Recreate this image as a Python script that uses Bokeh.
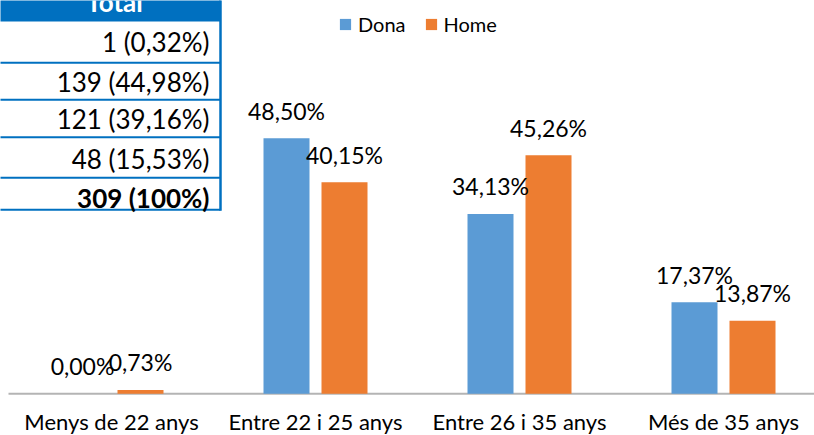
from bokeh.plotting import figure
from bokeh.models import Range1d, ColumnDataSource, Legend, LegendItem
from bokeh.transform import dodge
from bokeh.core.properties import value
from bokeh.embed import file_html
from bokeh.resources import INLINE

# ---- data ----
categories = ["Menys de 22 anys", "Entre 22 i 25 anys", "Entre 26 i 35 anys", "Més de 35 anys"]
dona = [0.00, 48.50, 34.13, 17.37]
home = [0.73, 40.15, 45.26, 13.87]
table_header = "Total"
table_counts = [1, 139, 121, 48]
table_pcts = ["0,32%", "44,98%", "39,16%", "15,53%"]
table_total = 309
table_total_pct = "100%"


def fmt(v):
    return f"{v:.2f}".replace(".", ",") + "%"


W, H = 814, 435
PX_PER_UNIT = 204.0
PX_PER_PCT = 5.27
BASE_Y = 393.3
BLUE = "#5B9BD5"
ORANGE = "#ED7D31"
TBL = "#0070C0"
FONT = "Lato"
SH = -9  # empirical baseline correction for text glyphs

x0 = -111 / PX_PER_UNIT
p = figure(width=W, height=H, output_backend="svg", toolbar_location=None,
           x_range=Range1d(x0, x0 + W / PX_PER_UNIT),
           y_range=Range1d(-(H - BASE_Y) / PX_PER_PCT, BASE_Y / PX_PER_PCT),
           min_border_left=0, min_border_right=0, min_border_top=0, min_border_bottom=0)
p.outline_line_color = None
p.xgrid.visible = False
p.ygrid.visible = False
p.xaxis.visible = False
p.yaxis.visible = False

# pixel-like extra ranges for layout pieces (y downward)
p.extra_x_ranges = {"px": Range1d(0, W)}
p.extra_y_ranges = {"px": Range1d(H, 0)}

src = ColumnDataSource(dict(
    x=list(range(len(categories))),
    cat=categories,
    zero=[0] * len(categories),
    dona=dona, home=home,
    dona_lbl=[fmt(v) for v in dona],
    home_lbl=[fmt(v) for v in home],
))

# category axis line
p.segment(x0=[8], x1=[W], y0=[0], y1=[0], x_range_name="px",
          line_color="#B4B4B4", line_width=2)

OFF = 29 / PX_PER_UNIT
BW = 46 / PX_PER_UNIT
r_d = p.vbar(x=dodge("x", -OFF, range=p.x_range), top="dona", width=BW,
             fill_color=BLUE, line_color=None, source=src)
r_h = p.vbar(x=dodge("x", OFF, range=p.x_range), top="home", width=BW,
             fill_color=ORANGE, line_color=None, source=src)

for off, col, lbl in [(-OFF, "dona", "dona_lbl"), (OFF, "home", "home_lbl")]:
    p.text(x=dodge("x", off, range=p.x_range), y=col, text=lbl, source=src,
           text_align="center", text_baseline="alphabetic", y_offset=-18.5 + SH,
           text_font=value(FONT), text_font_size="23px", text_color="#000000")

# category labels below the axis line
p.text(x="x", y="zero", text="cat", source=src, text_align="center",
       text_baseline="alphabetic", y_offset=36.4 + SH,
       text_font=value(FONT), text_font_size="22px", text_color="#000000")

legend = Legend(items=[LegendItem(label="Dona", renderers=[r_d]),
                       LegendItem(label="Home", renderers=[r_h])],
                orientation="horizontal", location=(338, 399),
                glyph_width=14, glyph_height=14, label_standoff=6, spacing=18,
                padding=0, margin=0, border_line_alpha=0, background_fill_alpha=0,
                label_text_font=FONT, label_text_font_size="20px",
                label_text_color="#000000")
p.add_layout(legend)

# ---- table overlay ----
TR = 220  # table right edge
p.quad(left=-20, right=TR, top=-20, bottom=21, x_range_name="px", y_range_name="px",
       fill_color=TBL, line_color=None)
row_lines = [62.3, 99.3, 136.7, 177.3, 209.3]
p.segment(x0=[-5] * len(row_lines), x1=[TR] * len(row_lines), y0=row_lines, y1=row_lines,
          x_range_name="px", y_range_name="px", line_color=TBL, line_width=2)
p.segment(x0=[TR], x1=[TR], y0=[-10], y1=[210.3], x_range_name="px", y_range_name="px",
          line_color=TBL, line_width=2.5)

p.text(x=[114], y=[10 + SH], text=[table_header], x_range_name="px", y_range_name="px",
       text_align="center", text_baseline="alphabetic", text_font=value(FONT),
       text_font_size="26px", text_font_style="bold", text_color="#FFFFFF")

row_text = [f"{c} ({q})" for c, q in zip(table_counts, table_pcts)]
row_centers = [41.5, 81, 118, 158]
p.text(x=[209] * len(row_text), y=[c + 9.4 + SH for c in row_centers], text=row_text,
       x_range_name="px", y_range_name="px", text_align="right", text_baseline="alphabetic",
       text_font=value(FONT), text_font_size="26px", text_color="#000000")
p.text(x=[209], y=[197.5 + 9.4 + SH], text=[f"{table_total} ({table_total_pct})"],
       x_range_name="px", y_range_name="px", text_align="right", text_baseline="alphabetic",
       text_font=value(FONT), text_font_size="26px", text_font_style="bold",
       text_color="#000000")

open("out.html", "w").write(file_html(p, INLINE))
